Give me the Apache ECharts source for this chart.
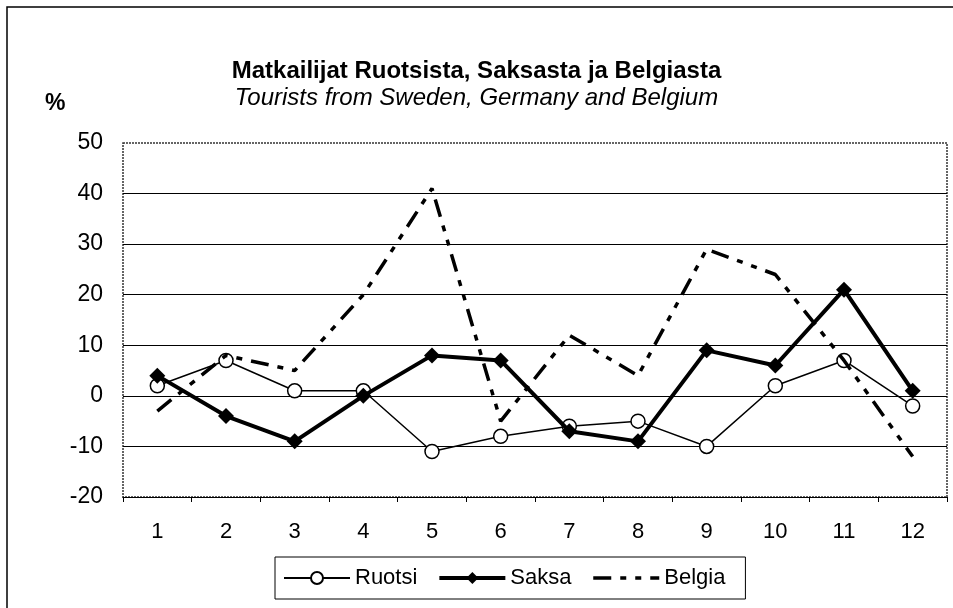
<!DOCTYPE html>
<html>
<head>
<meta charset="utf-8">
<script src="https://cdn.jsdelivr.net/npm/echarts@6/dist/echarts.min.js"></script>
<style>
html,body{margin:0;padding:0;background:#fff;}
#main{width:953px;height:608px;}
</style>
</head>
<body>
<div id="main"></div>
<script>
var months  = ['1','2','3','4','5','6','7','8','9','10','11','12'];
var ruotsi  = [2, 7, 1, 1, -11, -8, -6, -5, -10, 2, 7, -2];
var saksa   = [4, -4, -9, 0, 8, 7, -7, -9, 9, 6, 21, 1];
var belgia  = [-3, 8, 5, 20, 41, -5, 12, 4, 29, 24, 7, -12];
var yTicks  = [-20, -10, 0, 10, 20, 30, 40, 50];

var font = 'Liberation Sans, Arial, sans-serif';

var chart = echarts.init(document.getElementById('main'));

// plot area frame, in px
var gl = 123, gt = 143, gw = 824, gh = 354;

// split lines: hide top and bottom, frame is drawn dotted
var splitColors = [];
for (var i = 0; i < yTicks.length; i++) {
	splitColors.push((i == 0 || i == yTicks.length - 1) ? 'transparent' : '#000');
}

var belgiaDash = [18, 9, 6, 9, 6, 9];

var option = {
	backgroundColor: '#fff',
	animation: false,
	title: {
		text: 'Matkailijat Ruotsista, Saksasta ja Belgiasta',
		subtext: 'Tourists from Sweden, Germany and Belgium',
		left: 'center',
		top: 54,
		itemGap: 3,
		textStyle: {fontFamily: font, fontSize: 24, fontWeight: 'bold', color: '#000'},
		subtextStyle: {fontFamily: font, fontSize: 24, fontStyle: 'italic', color: '#000'}
	},
	legend: {
		left: 275,
		top: 557,
		padding: [10, 20, 10, 8],
		itemGap: 20,
		itemWidth: 66,
		itemHeight: 15,
		borderColor: '#000',
		borderWidth: 1,
		textStyle: {fontFamily: font, fontSize: 22, color: '#000'},
		data: [
			{name: 'Ruotsi'},
			{name: 'Saksa', lineStyle: {width: 4}},
			{name: 'Belgia', itemStyle: {opacity: 0}, lineStyle: {width: 3.5, type: belgiaDash}}
		]
	},
	grid: {left: gl, top: gt, width: gw, height: gh},
	xAxis: [
		{
			type: 'category',
			data: months,
			position: 'bottom',
			axisLine: {show: false},
			axisTick: {show: false},
			axisLabel: {fontFamily: font, fontSize: 22, color: '#000', margin: 24}
		},
		{
			type: 'category',
			data: months,
			position: 'bottom',
			axisLine: {show: true, onZero: true, lineStyle: {color: '#000', width: 1.2}},
			axisTick: {show: true, length: 5, lineStyle: {color: '#000'}},
			axisLabel: {show: false}
		}
	],
	yAxis: {
		type: 'value',
		min: -20,
		max: 50,
		interval: 10,
		axisLine: {show: false},
		axisTick: {show: false},
		axisLabel: {fontFamily: font, fontSize: 23, color: '#000', margin: 20},
		splitLine: {show: true, lineStyle: {color: splitColors, width: 1.2}}
	},
	graphic: [
		{
			type: 'rect',
			shape: {x: 7, y: 7, width: 980, height: 700},
			style: {fill: 'none', stroke: '#000', lineWidth: 1.5},
			silent: true
		},
		{
			type: 'rect',
			shape: {x: gl, y: gt, width: gw, height: gh},
			style: {fill: 'none', stroke: '#333', lineWidth: 1.5, lineDash: [2, 1]},
			silent: true
		},
		{
			type: 'text',
			left: 45,
			top: 92,
			style: {text: '%', fontFamily: font, fontSize: 23, fontWeight: 'bold', fill: '#000'}
		}
	],
	series: [
		{
			name: 'Ruotsi',
			type: 'line',
			data: ruotsi,
			symbol: 'circle',
			symbolSize: 14,
			itemStyle: {color: '#fff', borderColor: '#000', borderWidth: 1.5},
			lineStyle: {color: '#000', width: 1.5},
			z: 3
		},
		{
			name: 'Saksa',
			type: 'line',
			data: saksa,
			symbol: 'diamond',
			symbolSize: 16,
			itemStyle: {color: '#000'},
			lineStyle: {color: '#000', width: 4},
			z: 4
		},
		{
			name: 'Belgia',
			type: 'line',
			data: belgia,
			symbol: 'none',
			itemStyle: {color: '#000'},
			lineStyle: {color: '#000', width: 3.5, type: belgiaDash},
			z: 5
		}
	]
};

chart.setOption(option);
</script>
</body>
</html>
